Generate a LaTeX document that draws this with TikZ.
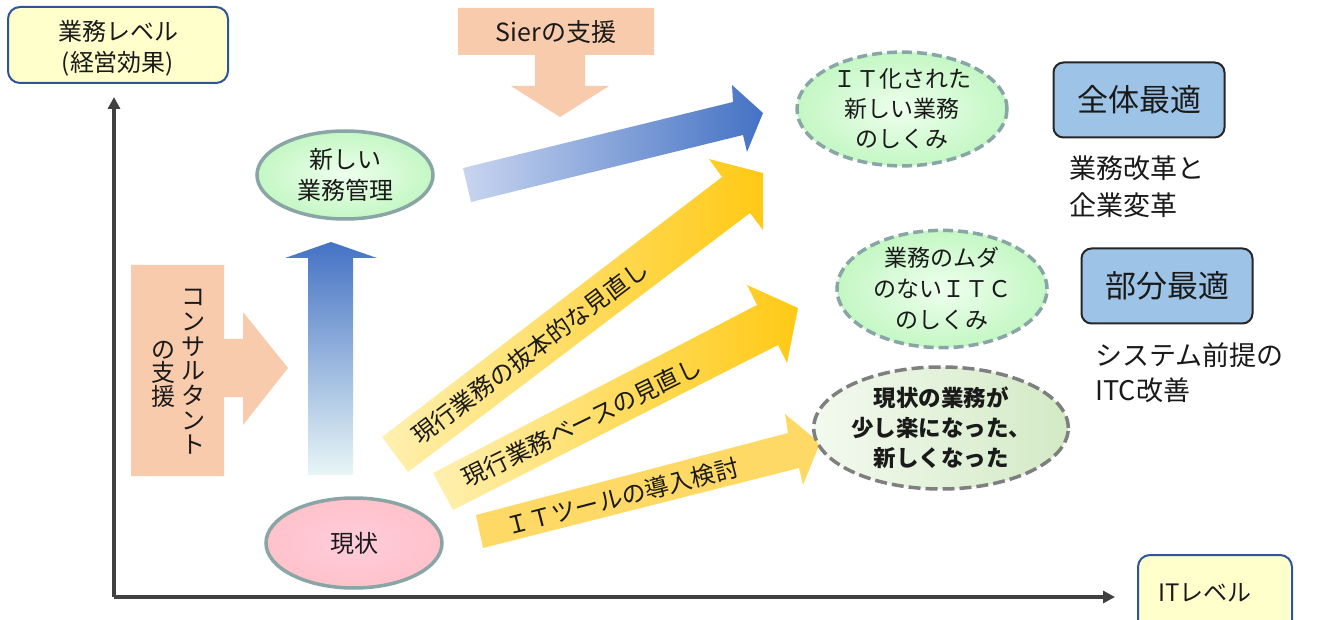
\documentclass[tikz,border=0pt]{standalone}
\usepackage{fontspec}
\setmainfont{Noto Sans CJK JP}
\usetikzlibrary{shapes.geometric,arrows.meta}
\definecolor{axisgray}{HTML}{404040}
\definecolor{boxyellow}{HTML}{FFFFCC}
\definecolor{boxblueline}{HTML}{2F5597}
\definecolor{optblue}{HTML}{9DC3E6}
\definecolor{peach}{HTML}{F8CBAD}
\definecolor{ellline}{HTML}{8AA5A5}
\definecolor{dashline}{HTML}{7F7F7F}
\definecolor{greenout}{HTML}{C4F7C4}
\definecolor{greenin}{HTML}{EEFFEE}
\definecolor{pinkout}{HTML}{FFC2CA}
\definecolor{pinkin}{HTML}{FFCCDC}
\definecolor{ybright}{HTML}{FFC914}
\definecolor{ylight}{HTML}{FFF0B0}
\definecolor{ymid}{HTML}{FFD966}
\definecolor{bdark}{HTML}{4472C4}
\definecolor{blight}{HTML}{C8D5EF}
\definecolor{bpale}{HTML}{E8F6F6}
\definecolor{paleL}{HTML}{F3F9EF}
\definecolor{paleR}{HTML}{D3EAC5}
\definecolor{txt}{HTML}{1A1A1A}
\begin{document}
\begin{tikzpicture}[x=1pt,y=-1pt,
  every node/.style={text=txt},
  axisline/.style={line width=3.5pt, draw=axisgray, -{Triangle[length=12pt,width=12pt]}},
  levelbox/.style={draw=boxblueline, line width=2pt, fill=boxyellow, rounded corners=12pt},
  optbox/.style={draw=black!85, line width=2pt, fill=optblue, rounded corners=10pt, minimum width=171pt, minimum height=75pt, font=\fontsize{31}{36}\selectfont},
  solidell/.style={ellipse, draw=ellline, line width=3.5pt, inner sep=0pt, align=center},
  dashell/.style={ellipse, draw=ellline, line width=3.5pt, dash pattern=on 10pt off 5pt, inner sep=0pt, align=center},
  fs24/.style={font=\fontsize{24}{31}\selectfont},
]
\clip (0,0) rectangle (1331,620);
\fill[white] (0,0) rectangle (1331,620);

% axes
\coordinate (O) at (114,597);
\coordinate (ytop) at (114,97);
\coordinate (xend) at (1115,597);
\draw[axisline] (O) -- (ytop);
\draw[axisline] (O) -- (xend);

% level boxes
\draw[levelbox] (8,7) rectangle (228,83);
\node[fs24, align=center] (bizlevel) at (118,48) {業務レベル\\(経営効果)};
\draw[levelbox] (1138,555) rectangle (1292,640);
\node[fs24, anchor=west] (itlevel) at (1155,593) {ITレベル};

% consultant support arrow
\fill[peach] (131,265) -- (224,265) -- (224,339) -- (243,339) -- (243,312) -- (288,368)
  -- (243,425) -- (243,397) -- (224,397) -- (224,476) -- (131,476) -- cycle;
\node[align=center, font=\fontsize{24}{24.7}\selectfont] (consA) at (193,372) {コ\\ン\\サ\\ル\\タ\\ン\\ト};
\node[align=center, font=\fontsize{24}{23.5}\selectfont] (consB) at (163,374) {の\\支\\援};

% Sier support arrow
\fill[peach] (458,8) -- (654,8) -- (654,55) -- (585,55) -- (585,86) -- (609,86) -- (560,117)
  -- (511,86) -- (535,86) -- (535,55) -- (458,55) -- cycle;
\node[font=\fontsize{25}{30}\selectfont] (sier) at (556,32) {Sierの支援};

% blue up arrow
\shade[top color=bdark, bottom color=bpale] (308,475) -- (308,258) -- (285,258) -- (331,242)
  -- (377,258) -- (353,258) -- (353,475) -- cycle;

% blue diagonal arrow
\shade[left color=blight, right color=bdark] (463,168) -- (733,102) -- (732,85) -- (763,113)
  -- (747,152) -- (743,135) -- (471,202) -- cycle;

% yellow arrows
\shade[left color=ylight, right color=ybright] (382,437) -- (722,177) -- (709,159) -- (763,173)
  -- (763,230) -- (750,213) -- (408,472) -- cycle;
\shade[left color=ylight, right color=ybright] (433,473) -- (757,305) -- (747,285) -- (798,308)
  -- (787,363) -- (778,345) -- (453,510) -- cycle;
\fill[ymid] (476,515) -- (788,433) -- (785,414) -- (820,443) -- (803,485) -- (799,468)
  -- (483,548) -- cycle;

\node[fs24, rotate=37] (t1) at (530,352) {現行業務の抜本的な見直し};
\node[fs24, rotate=26] (t2) at (582,422) {現行業務ベースの見直し};
\node[fs24, rotate=14.5] (t3) at (622,497) {ＩＴツールの導入検討};

% ellipses
\node[solidell, shade, inner color=greenin, outer color=greenout, minimum width=176pt, minimum height=88pt,
  font=\fontsize{24}{31}\selectfont] (newmgmt) at (345,175) {新しい\\業務管理};
\node[solidell, shade, inner color=pinkin, outer color=pinkout, minimum width=176pt, minimum height=90pt,
  font=\fontsize{24}{31}\selectfont] (now) at (354,543) {現状};
\node[dashell, shade, inner color=greenin, outer color=greenout, minimum width=210pt, minimum height=112pt,
  font=\fontsize{23}{30}\selectfont] (itbiz) at (902,109) {ＩＴ化された\\新しい業務\\のしくみ};
\node[dashell, shade, inner color=greenin, outer color=greenout, minimum width=210pt, minimum height=112pt,
  font=\fontsize{23}{31}\selectfont] (muda) at (942,289) {業務のムダ\\のないＩＴＣ\\のしくみ};
\node[dashell, draw=dashline, dash pattern=on 12pt off 5pt, shade, left color=paleL, right color=paleR, minimum width=224pt, minimum height=122pt,
  font=\bfseries\fontsize{22.5}{30}\selectfont] (easier) at (941,428) {現状の業務が\\少し楽になった、\\新しくなった};

% optimisation boxes
\node[optbox] (zentai) at (1139,100) {全体最適};
\node[optbox] (bubun) at (1167,286) {部分最適};
\node[anchor=west, align=left, font=\fontsize{27}{37}\selectfont] (kaikaku) at (1066,187) {業務改革と\\企業変革};
\node[anchor=west, align=left, font=\fontsize{27}{35}\selectfont] (system) at (1092,373) {システム前提の\\ITC改善};
\end{tikzpicture}
\end{document}
